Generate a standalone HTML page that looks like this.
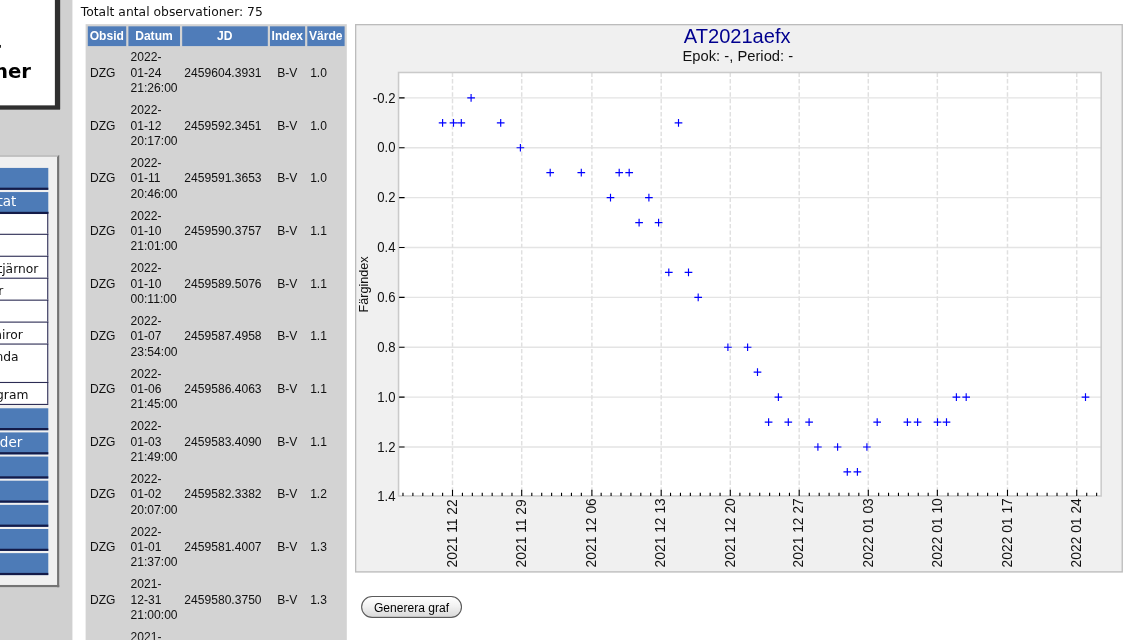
<!DOCTYPE html>
<html lang="sv"><head><meta charset="utf-8"><title>SAAF/V - Observationer</title>
<style>
html,body{margin:0;padding:0;background:#fff;overflow:hidden;width:1136px;height:640px}
body{position:relative;font-family:"DejaVu Sans","Liberation Sans",sans-serif;color:#000}
#w{position:absolute;left:0;top:0;width:1040px;height:600px;transform:scale(1.0975);transform-origin:0 0}
#side{position:absolute;left:0;top:0;width:66px;height:600px;background:#d0d0d0}
#logo{position:absolute;left:-250px;top:-40px;width:304.5px;height:140.3px;background:#303030}
#logo i{position:absolute;left:4.56px;top:4.56px;right:4.9px;bottom:4.6px;background:#fff}
#logo div{position:absolute;right:26.3px;white-space:nowrap;font-weight:bold;font-size:17.9px;line-height:20px;text-align:left}
#menu{position:absolute;left:-250px;top:141px;width:300.4px;height:389.7px;border:2px solid;border-color:#c0c0c0 #747474 #747474 #c0c0c0;background:#f0f0f0}
#menu .b{position:absolute;left:0;width:292.2px;height:18px;background:#4d7bb7;border-bottom:2px solid #141b48;color:#fff;font-size:12.3px;line-height:18px;text-align:right;white-space:nowrap}
#menu .s{position:absolute;left:0;width:291px;background:#fff;border:1px solid #2c2c54;border-width:1px 1.2px 0 0;height:19.05px;font-size:11.2px;line-height:15px;white-space:nowrap;text-align:right;color:#111}
#tot{position:absolute;left:73.6px;top:4.6px;font-size:11.25px;line-height:14px;white-space:nowrap;color:#111}
#obs{position:absolute;left:77.8px;top:22.2px;border-collapse:separate;border-spacing:2px;background:#d3d3d3;font-family:"Liberation Sans",sans-serif;font-size:11px;line-height:14px;table-layout:fixed;width:238px;color:#111}
#obs th{background:#4f7cb9;color:#fff;font-weight:bold;padding:1.2px 0 2.8px;text-align:center;white-space:nowrap}
#obs td{padding:1.2px 2.2px 2.8px;text-align:left;vertical-align:middle}
#obs td.c{text-align:center}
#obs td.v{padding-left:2.8px}
#btn{position:absolute;left:328.8px;top:543.1px;width:92.4px;height:19.7px;box-sizing:border-box;border:1px solid #5a5a5a;border-radius:10px;background:linear-gradient(#ffffff,#f2f2f2 45%,#d9d9d9);font-family:"Liberation Sans",sans-serif;font-size:11px;line-height:14.7px;text-align:center;color:#000;padding:3px 0 0}
</style></head><body>
<div id="w">
<div id="side"></div>
<div id="logo"><i></i><div style="top:75.1px;right:53.6px">Svenska variabler</div><div style="top:95.1px">observationer</div></div>
<div id="menu">
<div class="b" style="top:9.5px"><span style="position:absolute;right:62.42px">Hem</span></div>
<div class="b" style="top:31.7px;z-index:2"><span id="bt" style="position:absolute;top:0.6px;right:29.35px">Observationer och resultat</span></div>
<div class="s" style="top:50.00px;height:19.05px"><span id="s0" style="position:absolute;right:61.22px;top:3.7px;text-align:right">Senaste nytt</span></div>
<div class="s" style="top:70.05px;height:19.05px"><span id="s1" style="position:absolute;right:61.22px;top:3.7px;text-align:right">Sök stjärna</span></div>
<div class="s" style="top:90.10px;height:19.05px"><span id="s2" style="position:absolute;right:8.10px;top:3.7px;text-align:right">Sök variabla stjärnor</span></div>
<div class="s" style="top:110.15px;height:19.05px"><span id="s3" style="position:absolute;right:39.90px;top:3.7px;text-align:right">Observatörer</span></div>
<div class="s" style="top:130.20px;height:19.05px"><span id="s4" style="position:absolute;right:61.22px;top:3.7px;text-align:right">Statistik</span></div>
<div class="s" style="top:150.25px;height:19.05px"><span id="s5" style="position:absolute;right:22.23px;top:3.7px;text-align:right">Långperiodiska miror</span></div>
<div class="s" style="top:170.30px;height:34.05px"><span id="s6" style="position:absolute;right:26.05px;top:3.7px;text-align:right">Ofta observerade och okända<br><span style="margin-right:80px">stjärnor</span></span></div>
<div class="s" style="top:205.35px;height:19.05px"><span id="s7" style="position:absolute;right:17.12px;top:3.7px;text-align:right">Ljuskurvor och fasdiagram</span></div>
<div style="position:absolute;left:0;width:292.2px;top:225.40px;height:1px;background:#2c2c54"></div>
<div class="b" style="top:228.60px"><span id="b0" style="position:absolute;right:62.42px">Rapportera</span></div>
<div class="b" style="top:250.63px"><span id="b1" style="position:absolute;right:23.88px">Kartor och bilder</span></div>
<div class="b" style="top:272.66px"><span id="b2" style="position:absolute;right:62.42px">Projekt</span></div>
<div class="b" style="top:294.69px"><span id="b3" style="position:absolute;right:62.42px">Variabelsektionen</span></div>
<div class="b" style="top:316.72px"><span id="b4" style="position:absolute;right:62.42px">Handledning</span></div>
<div class="b" style="top:338.75px"><span id="b5" style="position:absolute;right:62.42px">Länkar</span></div>
<div class="b" style="top:360.78px"><span id="b6" style="position:absolute;right:62.42px">Kontakt</span></div>
</div>
<div id="tot">Totalt antal observationer: 75</div>
<table id="obs" cellspacing="2" cellpadding="0"><tr><th style="width:35px">Obsid</th><th style="width:47px">Datum</th><th style="width:78px">JD</th><th style="width:32px">Index</th><th style="width:34px">Värde</th></tr>
<tr><td>DZG</td><td>2022-<wbr>01-24 21:26:00</td><td>2459604.3931</td><td class="c">B-V</td><td class="v">1.0</td></tr>
<tr><td>DZG</td><td>2022-<wbr>01-12 20:17:00</td><td>2459592.3451</td><td class="c">B-V</td><td class="v">1.0</td></tr>
<tr><td>DZG</td><td>2022-<wbr>01-11 20:46:00</td><td>2459591.3653</td><td class="c">B-V</td><td class="v">1.0</td></tr>
<tr><td>DZG</td><td>2022-<wbr>01-10 21:01:00</td><td>2459590.3757</td><td class="c">B-V</td><td class="v">1.1</td></tr>
<tr><td>DZG</td><td>2022-<wbr>01-10 00:11:00</td><td>2459589.5076</td><td class="c">B-V</td><td class="v">1.1</td></tr>
<tr><td>DZG</td><td>2022-<wbr>01-07 23:54:00</td><td>2459587.4958</td><td class="c">B-V</td><td class="v">1.1</td></tr>
<tr><td>DZG</td><td>2022-<wbr>01-06 21:45:00</td><td>2459586.4063</td><td class="c">B-V</td><td class="v">1.1</td></tr>
<tr><td>DZG</td><td>2022-<wbr>01-03 21:49:00</td><td>2459583.4090</td><td class="c">B-V</td><td class="v">1.1</td></tr>
<tr><td>DZG</td><td>2022-<wbr>01-02 20:07:00</td><td>2459582.3382</td><td class="c">B-V</td><td class="v">1.2</td></tr>
<tr><td>DZG</td><td>2022-<wbr>01-01 21:37:00</td><td>2459581.4007</td><td class="c">B-V</td><td class="v">1.3</td></tr>
<tr><td>DZG</td><td>2021-<wbr>12-31 21:00:00</td><td>2459580.3750</td><td class="c">B-V</td><td class="v">1.3</td></tr>
<tr><td>DZG</td><td>2021-<wbr>12-30 20:55:00</td><td>2459579.3715</td><td class="c">B-V</td><td class="v">1.2</td></tr>
<tr><td>DZG</td><td>2021-<wbr>12-29 21:10:00</td><td>2459578.3819</td><td class="c">B-V</td><td class="v">1.3</td></tr></table>
<button id="btn" type="button">Generera graf</button>
</div>
<svg id="chart" viewBox="0 0 700 500" preserveAspectRatio="none" style="position:absolute;left:355.1px;top:24.1px;width:767.9px;height:548.55px" font-family="Liberation Sans, sans-serif">
<rect x="0" y="0" width="700" height="500" fill="#f0f0f0"/>
<rect x="0.6" y="0.6" width="698.8" height="498.8" fill="none" stroke="#bcbcbc" stroke-width="1.2"/>
<rect x="39.7" y="44.2" width="640.5" height="386.0" fill="#ffffff"/>
<path d="M39.7 67.35H680.2M39.7 112.81H680.2M39.7 158.27H680.2M39.7 203.73H680.2M39.7 249.19H680.2M39.7 294.65H680.2M39.7 340.11H680.2M39.7 385.57H680.2" stroke="#e4e4e4" stroke-width="1.3" fill="none"/>
<path d="M88.88 44.2V430.2M151.96 44.2V430.2M215.95 44.2V430.2M279.12 44.2V430.2M342.11 44.2V430.2M404.92 44.2V430.2M467.91 44.2V430.2M530.86 44.2V430.2M594.80 44.2V430.2M657.93 44.2V430.2" stroke="#e0e0e0" stroke-width="1.35" stroke-dasharray="4 2" fill="none"/>
<rect x="39.7" y="44.2" width="640.5" height="386.0" fill="none" stroke="#cacaca" stroke-width="1.4"/>
<path d="M40.2 67.35h5M40.2 112.81h5M40.2 158.27h5M40.2 203.73h5M40.2 249.19h5M40.2 294.65h5M40.2 340.11h5M40.2 385.57h5M43.73 430.2v-3M52.77 430.2v-3M61.80 430.2v-3M70.83 430.2v-3M79.87 430.2v-3M88.88 430.2v-5.6M97.93 430.2v-3M106.97 430.2v-3M116.00 430.2v-3M125.03 430.2v-3M134.07 430.2v-3M143.10 430.2v-3M151.96 430.2v-5.6M161.17 430.2v-3M170.20 430.2v-3M179.24 430.2v-3M188.27 430.2v-3M197.30 430.2v-3M206.34 430.2v-3M215.95 430.2v-5.6M224.40 430.2v-3M233.44 430.2v-3M242.47 430.2v-3M251.50 430.2v-3M260.54 430.2v-3M269.57 430.2v-3M279.12 430.2v-5.6M287.64 430.2v-3M296.67 430.2v-3M305.70 430.2v-3M314.74 430.2v-3M323.77 430.2v-3M332.80 430.2v-3M342.11 430.2v-5.6M350.87 430.2v-3M359.90 430.2v-3M368.94 430.2v-3M377.97 430.2v-3M387.01 430.2v-3M396.04 430.2v-3M404.92 430.2v-5.6M414.11 430.2v-3M423.14 430.2v-3M432.17 430.2v-3M441.21 430.2v-3M450.24 430.2v-3M459.27 430.2v-3M467.91 430.2v-5.6M477.34 430.2v-3M486.37 430.2v-3M495.41 430.2v-3M504.44 430.2v-3M513.47 430.2v-3M522.51 430.2v-3M530.86 430.2v-5.6M540.58 430.2v-3M549.61 430.2v-3M558.64 430.2v-3M567.68 430.2v-3M576.71 430.2v-3M585.74 430.2v-3M594.80 430.2v-5.6M603.81 430.2v-3M612.84 430.2v-3M621.88 430.2v-3M630.91 430.2v-3M639.94 430.2v-3M648.98 430.2v-3M657.93 430.2v-5.6M667.04 430.2v-3M676.08 430.2v-3" stroke="#000" stroke-width="1.0" fill="none"/>
<text transform="translate(36.9 71.60) scale(0.88 1)" font-size="13.6" text-anchor="end" fill="#111">-0.2</text>
<text transform="translate(36.9 117.06) scale(0.88 1)" font-size="13.6" text-anchor="end" fill="#111">0.0</text>
<text transform="translate(36.9 162.52) scale(0.88 1)" font-size="13.6" text-anchor="end" fill="#111">0.2</text>
<text transform="translate(36.9 207.98) scale(0.88 1)" font-size="13.6" text-anchor="end" fill="#111">0.4</text>
<text transform="translate(36.9 253.44) scale(0.88 1)" font-size="13.6" text-anchor="end" fill="#111">0.6</text>
<text transform="translate(36.9 298.90) scale(0.88 1)" font-size="13.6" text-anchor="end" fill="#111">0.8</text>
<text transform="translate(36.9 344.36) scale(0.88 1)" font-size="13.6" text-anchor="end" fill="#111">1.0</text>
<text transform="translate(36.9 389.82) scale(0.88 1)" font-size="13.6" text-anchor="end" fill="#111">1.2</text>
<text transform="translate(36.9 434.45) scale(0.88 1)" font-size="13.6" text-anchor="end" fill="#111">1.4</text>
<text transform="translate(92.78 495.3) rotate(-90)" font-size="12.6" fill="#111">2021 11 22</text>
<text transform="translate(155.86 495.3) rotate(-90)" font-size="12.6" fill="#111">2021 11 29</text>
<text transform="translate(219.85 495.3) rotate(-90)" font-size="12.6" fill="#111">2021 12 06</text>
<text transform="translate(283.02 495.3) rotate(-90)" font-size="12.6" fill="#111">2021 12 13</text>
<text transform="translate(346.01 495.3) rotate(-90)" font-size="12.6" fill="#111">2021 12 20</text>
<text transform="translate(408.82 495.3) rotate(-90)" font-size="12.6" fill="#111">2021 12 27</text>
<text transform="translate(471.81 495.3) rotate(-90)" font-size="12.6" fill="#111">2022 01 03</text>
<text transform="translate(534.76 495.3) rotate(-90)" font-size="12.6" fill="#111">2022 01 10</text>
<text transform="translate(598.70 495.3) rotate(-90)" font-size="12.6" fill="#111">2022 01 17</text>
<text transform="translate(661.83 495.3) rotate(-90)" font-size="12.6" fill="#111">2022 01 24</text>
<text transform="translate(11.9 237.4) rotate(-90)" font-size="11.5" text-anchor="middle" fill="#111">Färgindex</text>
<text x="348.4" y="17.2" font-size="18.3" text-anchor="middle" fill="#00008f">AT2021aefx</text>
<text x="349.0" y="34.1" font-size="13.45" text-anchor="middle" fill="#111">Epok: -, Period: -</text>
<path d="M102.33 67.35h7M105.83 63.85v7M76.35 90.08h7M79.85 86.58v7M86.29 90.08h7M89.79 86.58v7M93.40 90.08h7M96.90 86.58v7M129.32 90.08h7M132.82 86.58v7M291.40 90.08h7M294.90 86.58v7M147.27 112.81h7M150.77 109.31v7M174.44 135.54h7M177.94 132.04v7M202.79 135.54h7M206.29 132.04v7M237.34 135.54h7M240.84 132.04v7M246.45 135.54h7M249.95 132.04v7M229.41 158.27h7M232.91 154.77v7M264.41 158.27h7M267.91 154.77v7M255.48 181.00h7M258.98 177.50v7M273.25 181.00h7M276.75 177.50v7M282.55 226.46h7M286.05 222.96v7M300.51 226.46h7M304.01 222.96v7M309.35 249.19h7M312.85 245.69v7M336.43 294.65h7M339.93 291.15v7M354.39 294.65h7M357.89 291.15v7M363.41 317.38h7M366.91 313.88v7M382.46 340.11h7M385.96 336.61v7M544.72 340.11h7M548.22 336.61v7M553.66 340.11h7M557.16 336.61v7M662.41 340.11h7M665.91 336.61v7M373.53 362.84h7M377.03 359.34v7M391.49 362.84h7M394.99 359.34v7M410.45 362.84h7M413.95 359.34v7M472.53 362.84h7M476.03 359.34v7M500.06 362.84h7M503.56 359.34v7M509.35 362.84h7M512.85 359.34v7M527.49 362.84h7M530.99 359.34v7M535.70 362.84h7M539.20 359.34v7M418.47 385.57h7M421.97 382.07v7M436.43 385.57h7M439.93 382.07v7M463.14 385.57h7M466.64 382.07v7M445.27 408.30h7M448.77 404.80v7M454.48 408.30h7M457.98 404.80v7" stroke="#0000ff" stroke-width="1.05" fill="none"/>
</svg>
</body></html>
